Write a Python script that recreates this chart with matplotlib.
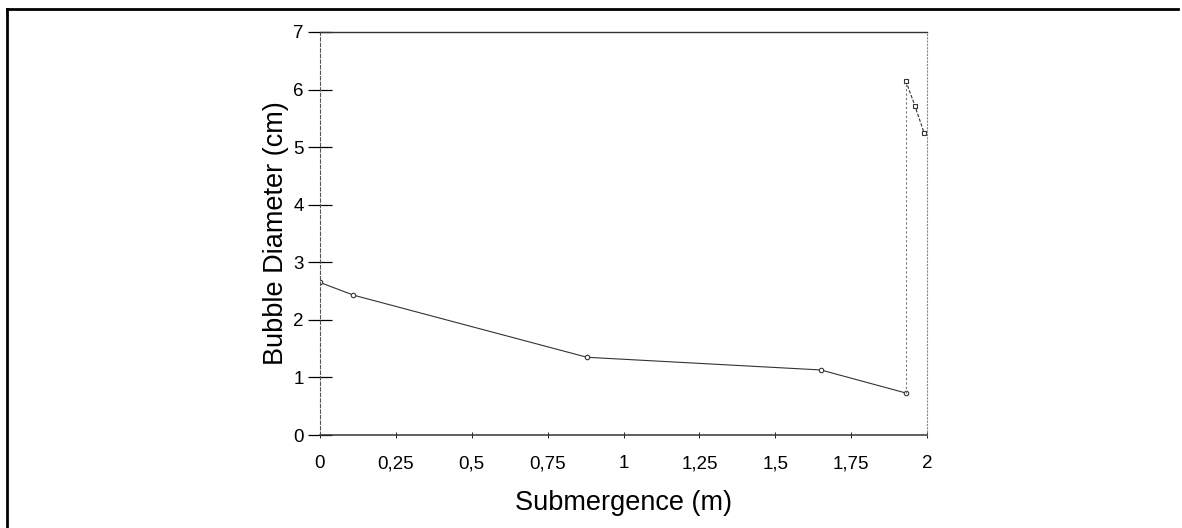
import matplotlib
matplotlib.use("Agg")
import matplotlib.pyplot as plt
from matplotlib.lines import Line2D

# values
submergence = [0.0, 0.11, 0.88, 1.65, 1.93]
diameter = [2.65, 2.43, 1.35, 1.13, 0.73]
# upper branch near the surface
sub_top = [1.93, 1.96, 1.99]
dia_top = [6.15, 5.72, 5.25]

x_ticks = [0, 0.25, 0.5, 0.75, 1, 1.25, 1.5, 1.75, 2]
x_labels = ["0", "0,25", "0,5", "0,75", "1", "1,25", "1,5", "1,75", "2"]
y_ticks = [0, 1, 2, 3, 4, 5, 6, 7]

plt.rcParams['font.family'] = ['Liberation Sans', 'DejaVu Sans']

fig = plt.figure(figsize=(11.82, 5.28), dpi=100)
ax = fig.add_axes([0.2707, 0.1761, 0.5136, 0.7633])

line_col = '#333333'
ax.plot(submergence, diameter, color=line_col, lw=0.8, marker='o', ms=3.2,
        mfc='white', mec=line_col, mew=0.8)
# vertical jump drawn dotted
ax.plot([submergence[-1], sub_top[0]], [diameter[-1], dia_top[0]],
        color='#777777', lw=0.8, ls=(0, (2, 2)))
ax.plot(sub_top, dia_top, color=line_col, lw=0.8, ls=(0, (3, 1.5)), marker='s', ms=3.2,
        mfc='white', mec=line_col, mew=0.8)

ax.set_xlim(0, 2)
ax.set_ylim(0, 7)
ax.set_xticks(x_ticks)
ax.set_xticklabels(x_labels)
ax.set_yticks(y_ticks)

ax.tick_params(axis='y', direction='inout', length=17, width=0.9, labelsize=13.5, pad=3)
ax.tick_params(axis='x', direction='inout', length=5, width=0.6, labelsize=13.5, pad=12)

ax.spines['left'].set_linestyle((0, (3, 2)))
ax.spines['left'].set_color('#555555')
ax.spines['left'].set_linewidth(0.8)
ax.spines['right'].set_linestyle((0, (1, 2)))
ax.spines['right'].set_color('#888888')
ax.spines['right'].set_linewidth(0.8)
ax.spines['top'].set_color('#333333')
ax.spines['top'].set_linewidth(1.0)
ax.spines['bottom'].set_color('#333333')
ax.spines['bottom'].set_linewidth(1.1)

ax.set_xlabel("Submergence (m)", fontsize=19.5, labelpad=13)
ax.set_ylabel("Bubble Diameter (cm)", fontsize=19.5, labelpad=3)

# scan frame: top and left borders only
fig.add_artist(Line2D([0.006, 0.997], [0.983, 0.983], transform=fig.transFigure,
                      color='black', lw=2))
fig.add_artist(Line2D([0.006, 0.006], [0.0, 0.983], transform=fig.transFigure,
                      color='black', lw=2))

fig.savefig("out.png", dpi=100)
